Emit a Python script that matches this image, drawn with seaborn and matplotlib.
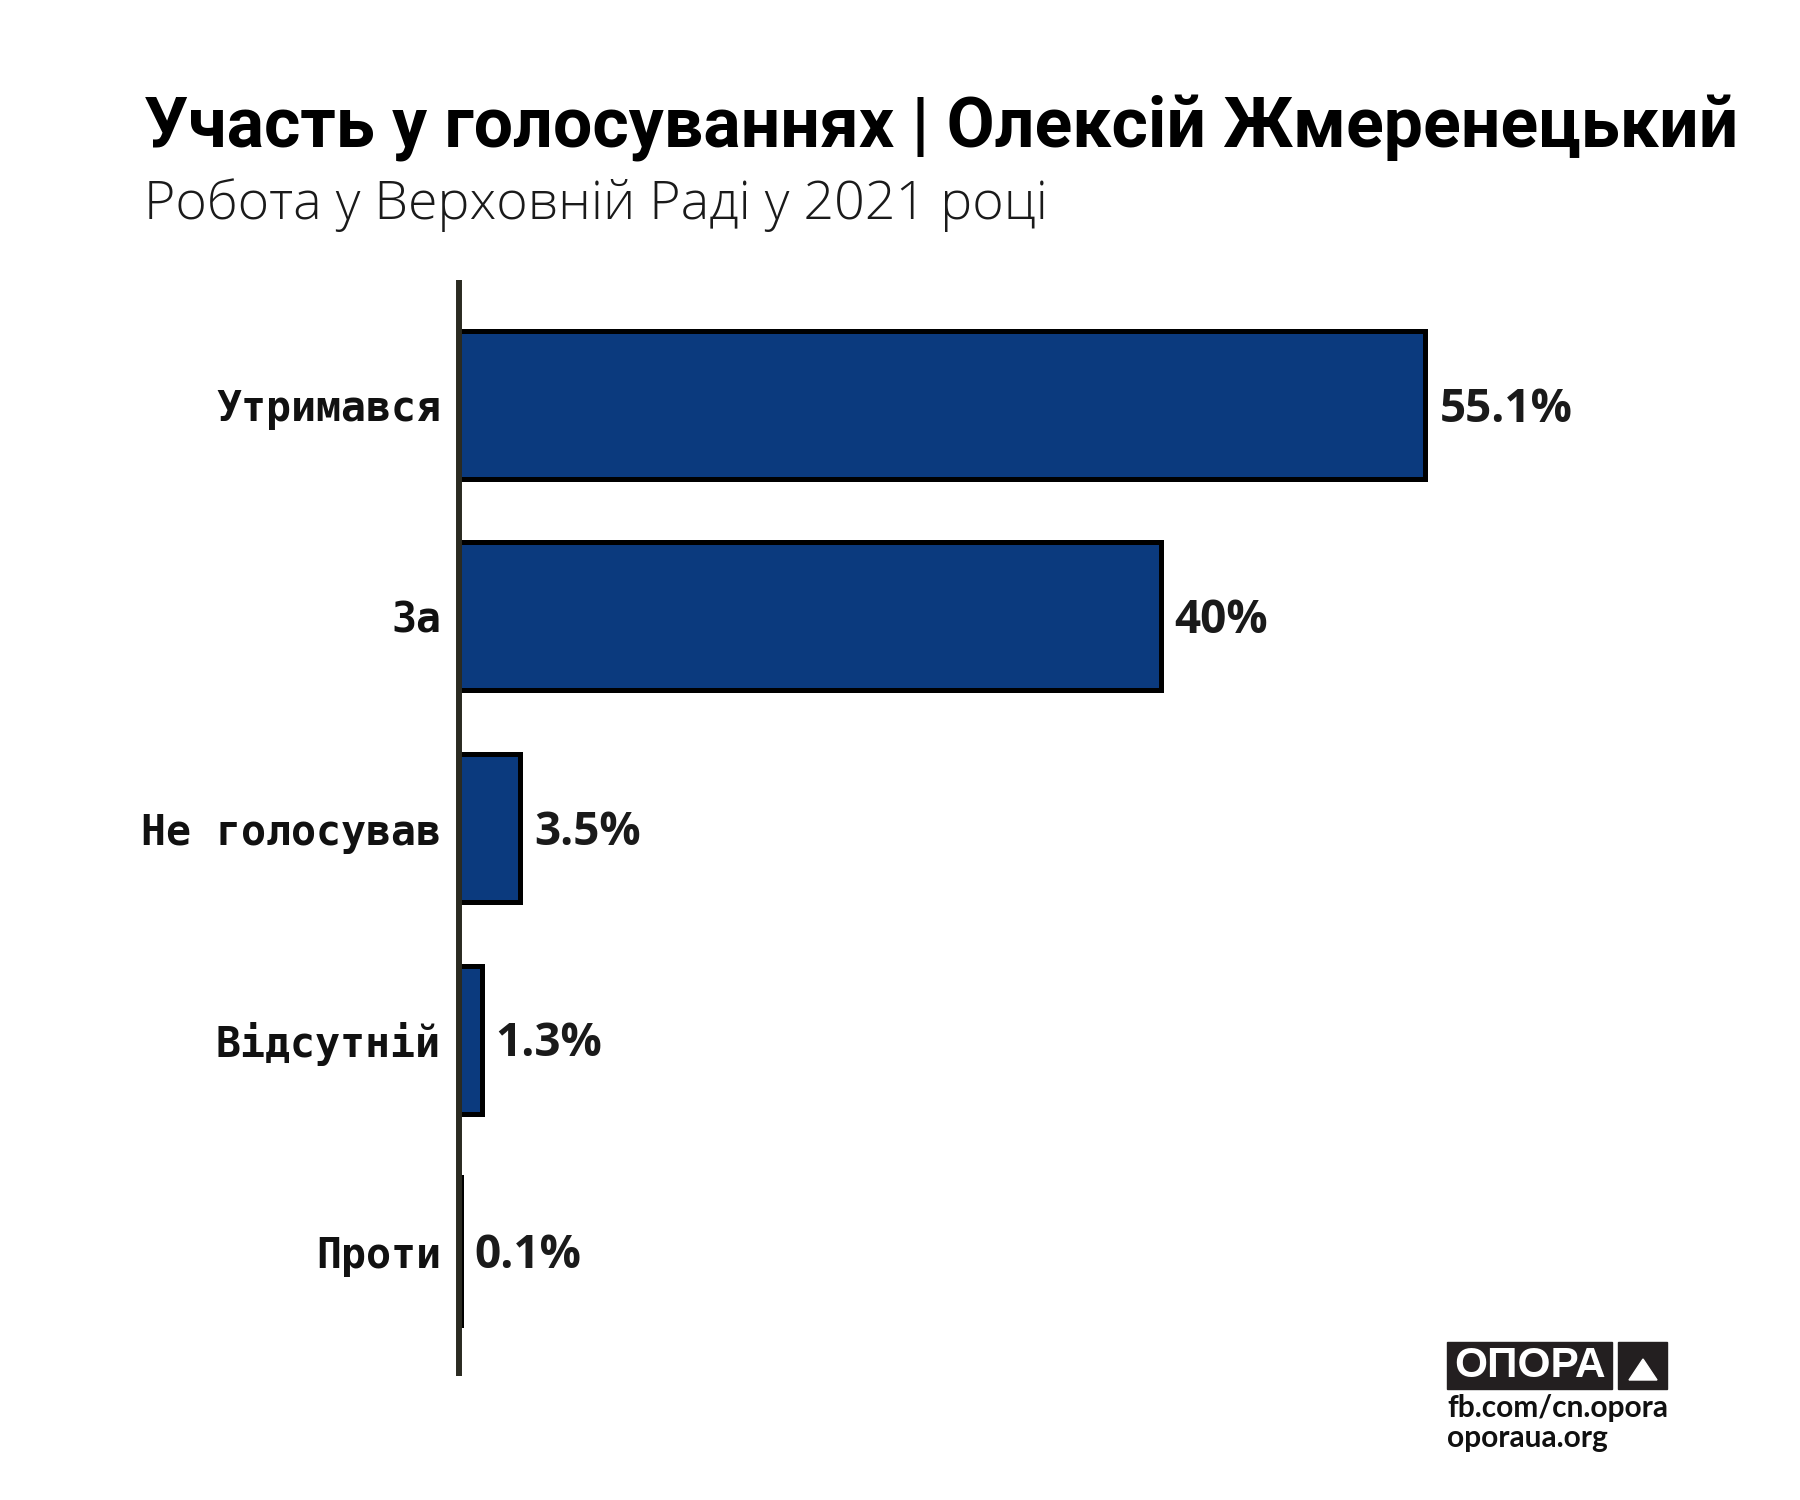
import matplotlib
matplotlib.use("Agg")
import matplotlib.pyplot as plt
import seaborn as sns
import pandas as pd
from matplotlib.patches import Rectangle, Polygon

categories = ["Утримався", "За", "Не голосував", "Відсутній", "Проти"]
values = [55.1, 40.0, 3.5, 1.3, 0.1]
value_labels = ["55.1%", "40%", "3.5%", "1.3%", "0.1%"]

title = "Участь у голосуваннях | Олексій Жмеренецький"
subtitle = "Робота у Верховній Раді у 2021 році"
logo_text = "ОПОРА"
url1 = "fb.com/cn.opora"
url2 = "oporaua.org"

sns.set_theme(style="white")
plt.rcParams['font.family'] = ['DejaVu Sans']

df = pd.DataFrame({"cat": categories, "val": values})

fig = plt.figure(figsize=(18, 15), dpi=100)
ax = fig.add_axes([459/1800, 1 - 1376/1500, 1301/1800, (1376 - 280)/1500])

sns.barplot(data=df, y="cat", x="val", orient="h", color="#0b3a7e",
            saturation=1, width=0.7, edgecolor="black", linewidth=3.6, ax=ax)

ax.set_xlim(0, 1301/17.54)
ax.set_ylim(4.59, -0.59)
ax.set_xlabel("")
ax.set_ylabel("")
ax.set_xticks([])
for s in ["top", "right", "bottom"]:
    ax.spines[s].set_visible(False)
ax.spines["left"].set_color("#2b2b22")
ax.spines["left"].set_linewidth(4.3)
ax.spines["left"].set_capstyle("butt")
ax.spines["left"].set_zorder(5)
ax.tick_params(axis="y", length=0, pad=13)
for t in ax.get_yticklabels():
    t.set_fontfamily("DejaVu Sans Mono")
    t.set_fontweight("bold")
    t.set_fontsize(30)
    t.set_color("#111111")

labels = ax.bar_label(ax.containers[0], labels=value_labels, padding=10,
                      fontsize=33, fontweight="bold", fontfamily="Open Sans",
                      color="#1a1a1a")
for lab in labels:
    lab.xyann = (10, -3)

fig.text(144/1800, 1 - 147/1500, title, fontsize=50.2, fontweight="bold",
         fontfamily="Roboto", color="#000000", ha="left", va="baseline")
fig.text(144/1800, 1 - 219/1500, subtitle, fontsize=38.7, fontweight="light",
         fontfamily="Open Sans", color="#1a1a1a", ha="left", va="baseline")

# logo
fig.patches.append(Rectangle((1447/1800, 1 - 1389/1500), 165/1800, 47/1500,
                             transform=fig.transFigure, color="#231f20"))
fig.patches.append(Rectangle((1618/1800, 1 - 1389/1500), 49/1800, 47/1500,
                             transform=fig.transFigure, color="#231f20"))
fig.patches.append(Polygon([(1629/1800, 1 - 1380/1500), (1657/1800, 1 - 1380/1500),
                            (1643/1800, 1 - 1359/1500)], closed=True,
                           transform=fig.transFigure, color="white"))
fig.text(1530/1800, 1 - 1366/1500, logo_text, fontsize=30.5, fontweight="bold",
         fontfamily="Liberation Sans", color="white", ha="center", va="center")
fig.text(1447/1800, 1 - 1447/1500, url1 + "\n" + url2, fontsize=21.5,
         fontweight="bold", fontfamily="Lato", color="#111111",
         ha="left", va="baseline", linespacing=1.1)

fig.savefig("out.png", dpi=100, facecolor="white")
